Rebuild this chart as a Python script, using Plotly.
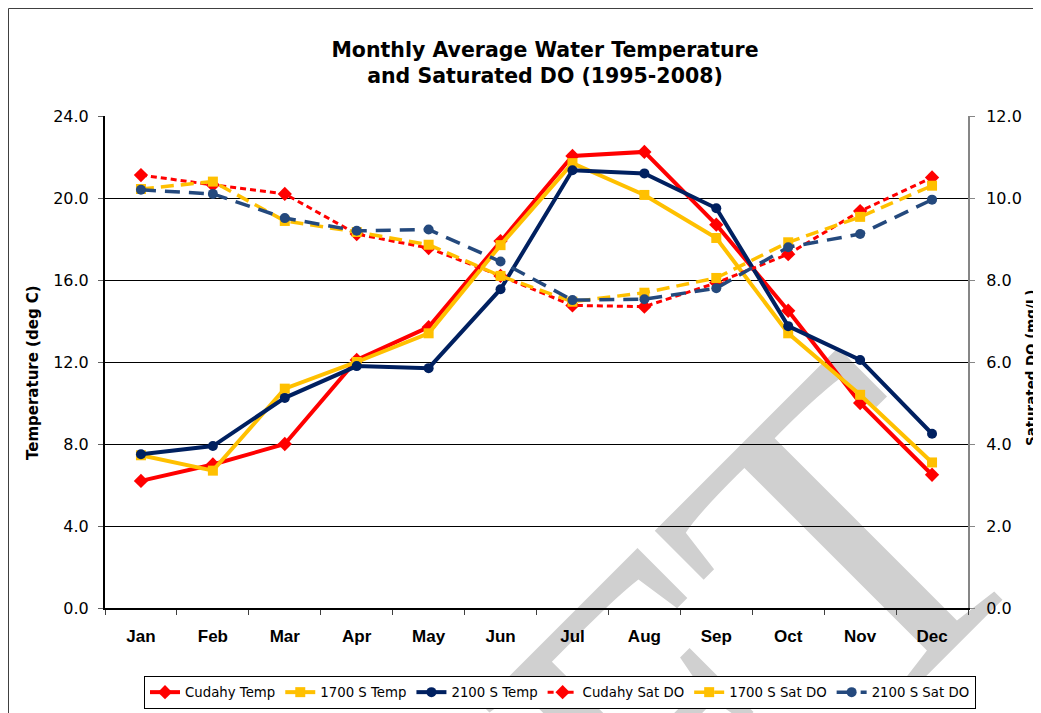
import plotly.graph_objects as go

months = ["Jan", "Feb", "Mar", "Apr", "May", "Jun", "Jul", "Aug", "Sep", "Oct", "Nov", "Dec"]

cudahy_temp = [6.2, 7.0, 8.0, 12.1, 13.7, 17.9, 22.05, 22.25, 18.7, 14.5, 10.0, 6.5]
s1700_temp = [7.45, 6.7, 10.7, 12.0, 13.4, 17.7, 21.7, 20.15, 18.05, 13.4, 10.4, 7.1]
s2100_temp = [7.5, 7.9, 10.25, 11.8, 11.7, 15.55, 21.35, 21.2, 19.5, 13.75, 12.1, 8.5]

cudahy_do = [10.56, 10.32, 10.1, 9.12, 8.78, 8.1, 7.38, 7.35, 7.93, 8.63, 9.68, 10.5]
s1700_do = [10.22, 10.4, 9.44, 9.17, 8.86, 8.1, 7.47, 7.69, 8.05, 8.92, 9.54, 10.3]
s2100_do = [10.2, 10.1, 9.51, 9.2, 9.23, 8.45, 7.51, 7.53, 7.8, 8.8, 9.12, 9.96]

title_text = "Monthly Average Water Temperature<br>and Saturated DO (1995-2008)"
left_title = "Temperature (deg C)"
right_title = "Saturated DO (mg/L)"
watermark = "DRAFT"

RED = "#FF0000"
YEL = "#FFC000"
NAVY = "#002060"
BLUE = "#24497D"
FONT = "DejaVu Sans, Liberation Sans, Arial, sans-serif"

fig = go.Figure()

fig.add_trace(go.Scatter(x=months, y=cudahy_temp, name="Cudahy Temp", mode="lines+markers",
                         line=dict(color=RED, width=4), marker=dict(symbol="diamond", size=11, color=RED)))
fig.add_trace(go.Scatter(x=months, y=s1700_temp, name="1700 S Temp", mode="lines+markers",
                         line=dict(color=YEL, width=4), marker=dict(symbol="square", size=10, color=YEL)))
fig.add_trace(go.Scatter(x=months, y=s2100_temp, name="2100 S Temp", mode="lines+markers",
                         line=dict(color=NAVY, width=4), marker=dict(symbol="circle", size=10, color=NAVY)))
fig.add_trace(go.Scatter(x=months, y=cudahy_do, name="Cudahy Sat DO", mode="lines+markers", yaxis="y2",
                         line=dict(color=RED, width=3, dash="6px,4px"),
                         marker=dict(symbol="diamond", size=11, color=RED)))
fig.add_trace(go.Scatter(x=months, y=s1700_do, name="1700 S Sat DO", mode="lines+markers", yaxis="y2",
                         line=dict(color=YEL, width=3.5, dash="13px,7px"),
                         marker=dict(symbol="square", size=10, color=YEL)))
fig.add_trace(go.Scatter(x=months, y=s2100_do, name="2100 S Sat DO", mode="lines+markers", yaxis="y2",
                         line=dict(color=BLUE, width=3.5, dash="15px,9px"),
                         marker=dict(symbol="circle", size=10, color=BLUE)))

# page is offset by the 8px body margin
OFF = 8
W, H = 1041 - OFF, 713 - OFF
# plot area in page pixels
L, R, T, B = 105, 968, 116, 608

def px_x(p):
    return (p - L) / (R - L)

def px_y(p):
    return (B - p) / (B - T)

WX, WY = 388, 930

shapes = [
    dict(type="rect", xref="paper", yref="paper",
         x0=px_x(WX) - 0.001, x1=px_x(WX) + 0.001, y0=px_y(WY) - 0.001, y1=px_y(WY) + 0.001,
         line=dict(width=0), fillcolor="rgba(0,0,0,0)", layer="below",
         label=dict(text=watermark, textangle=-45, textposition="middle center",
                    font=dict(family="Liberation Serif", size=450, color="#D0D0D0"))),
    dict(type="rect", xref="paper", yref="paper",
         x0=px_x(8.5), x1=px_x(1080), y0=px_y(8.5), y1=px_y(760),
         line=dict(color="#404040", width=1), fillcolor="rgba(0,0,0,0)", layer="above"),
]

annotations = [
    dict(text="<b>" + left_title + "</b>", xref="paper", yref="paper", x=px_x(33), y=px_y(373),
         textangle=-90, showarrow=False, xanchor="center", yanchor="middle",
         font=dict(size=15, family=FONT, color="black")),
    dict(text="<b>" + right_title + "</b>", xref="paper", yref="paper", x=px_x(1031), y=px_y(368),
         textangle=-90, showarrow=False, xanchor="center", yanchor="middle",
         font=dict(size=13.4, family=FONT, color="black")),
]

fig.update_layout(
    width=W, height=H,
    margin=dict(l=L - OFF, r=W - (R - OFF), t=T - OFF, b=H - (B - OFF), pad=0, autoexpand=False),
    paper_bgcolor="white", plot_bgcolor="rgba(0,0,0,0)",
    font=dict(family=FONT, color="black"),
    title=dict(text="<b>" + title_text + "</b>", x=(545 - OFF) / W, xanchor="center",
               y=1 - (56.5 - OFF) / H, yanchor="middle",
               font=dict(size=20.5, family=FONT)),
    xaxis=dict(range=[-0.5, 11.5], showline=True, linecolor="black", linewidth=1.5,
               ticks="outside", tickson="boundaries", ticklen=5, tickcolor="#404040",
               tickfont=dict(size=17, family="Liberation Sans, Arial, sans-serif"),
               tickprefix="<b>", ticksuffix="</b>", showgrid=False, fixedrange=True, automargin=False,
               ticklabelstandoff=12),
    yaxis=dict(range=[0, 24], dtick=4, tickformat=".1f", showline=True, linecolor="black", linewidth=2,
               ticks="outside", ticklen=5, tickcolor="#606060", showgrid=True, gridcolor="black", gridwidth=1,
               tickfont=dict(size=16), zeroline=False, automargin=False, ticklabelstandoff=6),
    yaxis2=dict(range=[0, 12], dtick=2, tickformat=".1f", overlaying="y", side="right", showline=True,
                linecolor="#868686", linewidth=2, ticks="outside", ticklen=5, tickcolor="#868686",
                showgrid=False, zeroline=False, tickfont=dict(size=16), automargin=False,
                ticklabelstandoff=8),
    legend=dict(orientation="h", xref="container", yref="container",
                x=(560 - OFF) / W, xanchor="center", y=1 - (676 - OFF) / H, yanchor="top",
                bgcolor="white", bordercolor="black", borderwidth=1,
                font=dict(size=13.3, family=FONT),
                itemwidth=30, tracegroupgap=0),
    shapes=shapes,
    annotations=annotations,
    showlegend=True,
)

fig.write_html("out.html")
